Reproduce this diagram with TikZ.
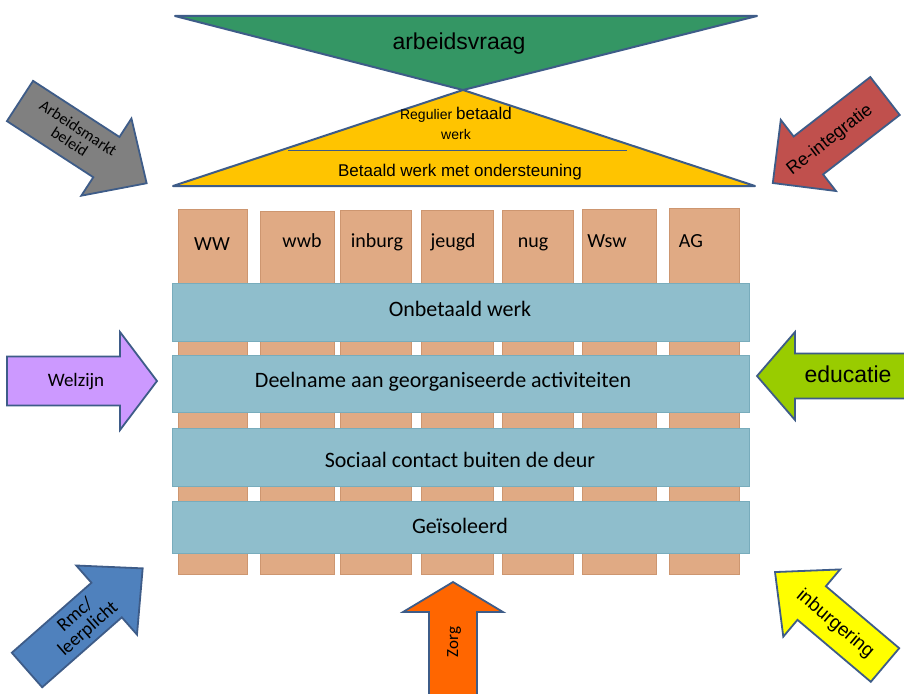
\documentclass[tikz,border=0pt]{standalone}
\usepackage{fontspec}
\setmainfont{Carlito}
\newfontfamily\arialf{Liberation Sans}
\definecolor{tanc}{RGB}{224,170,132}
\definecolor{tanl}{RGB}{205,150,112}
\definecolor{barc}{RGB}{143,190,204}
\definecolor{barl}{RGB}{120,172,188}
\definecolor{greenc}{RGB}{52,150,100}
\definecolor{yellowc}{RGB}{255,196,0}
\definecolor{outl}{RGB}{62,92,136}
\definecolor{grayc}{RGB}{128,128,128}
\definecolor{redc}{RGB}{192,80,77}
\definecolor{purplec}{RGB}{204,153,255}
\definecolor{limec}{RGB}{153,204,0}
\definecolor{bluec}{RGB}{79,129,189}
\definecolor{yelc}{RGB}{255,255,0}
\definecolor{orangec}{RGB}{255,102,0}
\newcommand\fsz[1]{\fontsize{#1}{#1}\selectfont}
% block arrow: #1 tail centre, #2 angle, #3 length, #4 shaft half width, #5 head half width, #6 head length, #7 fill
\newcommand\blockarr[7]{%
  \begin{scope}[shift={(#1)},rotate=#2]
    \draw[arrowbox,fill=#7] (0,-#4) -- ({#3-#6},-#4) -- ({#3-#6},-#5) -- (#3,0)
      -- ({#3-#6},#5) -- ({#3-#6},#4) -- (0,#4) -- cycle;
  \end{scope}}
\begin{document}
\begin{tikzpicture}[x=1pt,y=-1pt,
  arrowbox/.style={draw=outl,line width=1.8pt,line join=miter},
  colbox/.style={draw=tanl,line width=0.6pt,fill=tanc},
  barbox/.style={draw=barl,line width=0.6pt,fill=barc},
  collab/.style={font=\fsz{20},anchor=base},
  barlab/.style={font=\fsz{22}},
  tri/.style={draw=outl,line width=2pt,line join=round}]
\useasboundingbox (0,0) rectangle (904,693);
\fill[white] (0,0) rectangle (904,693);

% triangles
\coordinate (apex) at (463,90);
\draw[tri,fill=greenc] (175,16) -- (757,16) -- (apex) -- cycle;
\draw[tri,fill=yellowc] (173,186) -- (755,186) -- (apex) -- cycle;
\coordinate (sepL) at (288,150);
\coordinate (sepR) at (627,150);
\draw[outl,line width=0.8pt] (sepL) -- (sepR);
\node[font=\arialf\fsz{23}] (vraag) at (459,44) {arbeidsvraag};
\node[font=\arialf\fsz{14}] (reg) at (456,115) {Regulier {\fsz{17}betaald}};
\node[font=\arialf\fsz{14}] (regw) at (456,134) {werk};
\node[font=\arialf\fsz{17}] (steun) at (460,172) {Betaald werk met ondersteuning};

% columns
\foreach \nm/\xa/\xb/\ya in {c1/178/247/209, c2/260/334/211, c3/340/411/210, c4/421/493/210, c5/502/573/210, c6/582/656/209, c7/669/739/208}{
  \node[colbox,anchor=north west,minimum width={(\xb-\xa)*1pt},minimum height={(574-\ya)*1pt},inner sep=0pt] (\nm) at (\xa,\ya) {};
}
\node[collab] (l1) at (212,250) {WW};
\node[collab] (l2) at (302,247) {wwb};
\node[collab] (l3) at (377,247) {inburg};
\node[collab] (l4) at (453,247) {jeugd};
\node[collab] (l5) at (533,247) {nug};
\node[collab] (l6) at (607,247) {Wsw};
\node[collab] (l7) at (691,247) {AG};

% bars
\node[barbox,anchor=north west,minimum width=577pt,minimum height=58pt,inner sep=0pt] (b1) at (172,283) {};
\node[barbox,anchor=north west,minimum width=577pt,minimum height=57pt,inner sep=0pt] (b2) at (172,355) {};
\node[barbox,anchor=north west,minimum width=577pt,minimum height=58pt,inner sep=0pt] (b3) at (172,428) {};
\node[barbox,anchor=north west,minimum width=577pt,minimum height=52pt,inner sep=0pt] (b4) at (172,501) {};
\node[barlab] (t1) at (460,309) {Onbetaald werk};
\node[barlab] (t2) at (443,382) {Deelname aan georganiseerde activiteiten};
\node[barlab] (t3) at (460,460) {Sociaal contact buiten de deur};
\node[barlab] (t4) at (460,526) {Geïsoleerd};

% arrows
\blockarr{20,101}{-33}{151}{24}{46}{48}{grayc}
\node[font=\fsz{16},rotate=-33,align=center,inner sep=0pt] (a1) at (74,135) {Arbeidsmarkt\\beleid};

\blockarr{885,96}{217.8}{142}{24}{45}{45}{redc}
\node[font=\arialf\fsz{18},rotate=37.8,inner sep=0pt] (a2) at (830,140) {Re-integratie};

\blockarr{7,381}{0}{150}{24.5}{49}{37}{purplec}
\node[font=\fsz{19},inner sep=0pt] (a3) at (76,382) {Welzijn};

\blockarr{915,376}{180}{158}{22.5}{44}{38}{limec}
\node[font=\arialf\fsz{23},inner sep=0pt] (a4) at (848,374) {educatie};

\blockarr{27,670}{41.3}{154}{23}{46}{48}{bluec}
\node[font=\fsz{19},rotate=41.3,align=center,inner sep=0pt] (a5) at (82,622) {Rmc/\\leerplicht};

\blockarr{885,665}{139.8}{144}{22}{44}{48}{yelc}
\node[font=\arialf\fsz{19},rotate=-40.2,inner sep=0pt] (a6) at (835,624) {inburgering};

\blockarr{453,705}{90}{123}{24}{50}{30}{orangec}
\node[font=\fsz{17},rotate=90,inner sep=0pt] (a7) at (454,642) {Zorg};
\end{tikzpicture}
\end{document}
